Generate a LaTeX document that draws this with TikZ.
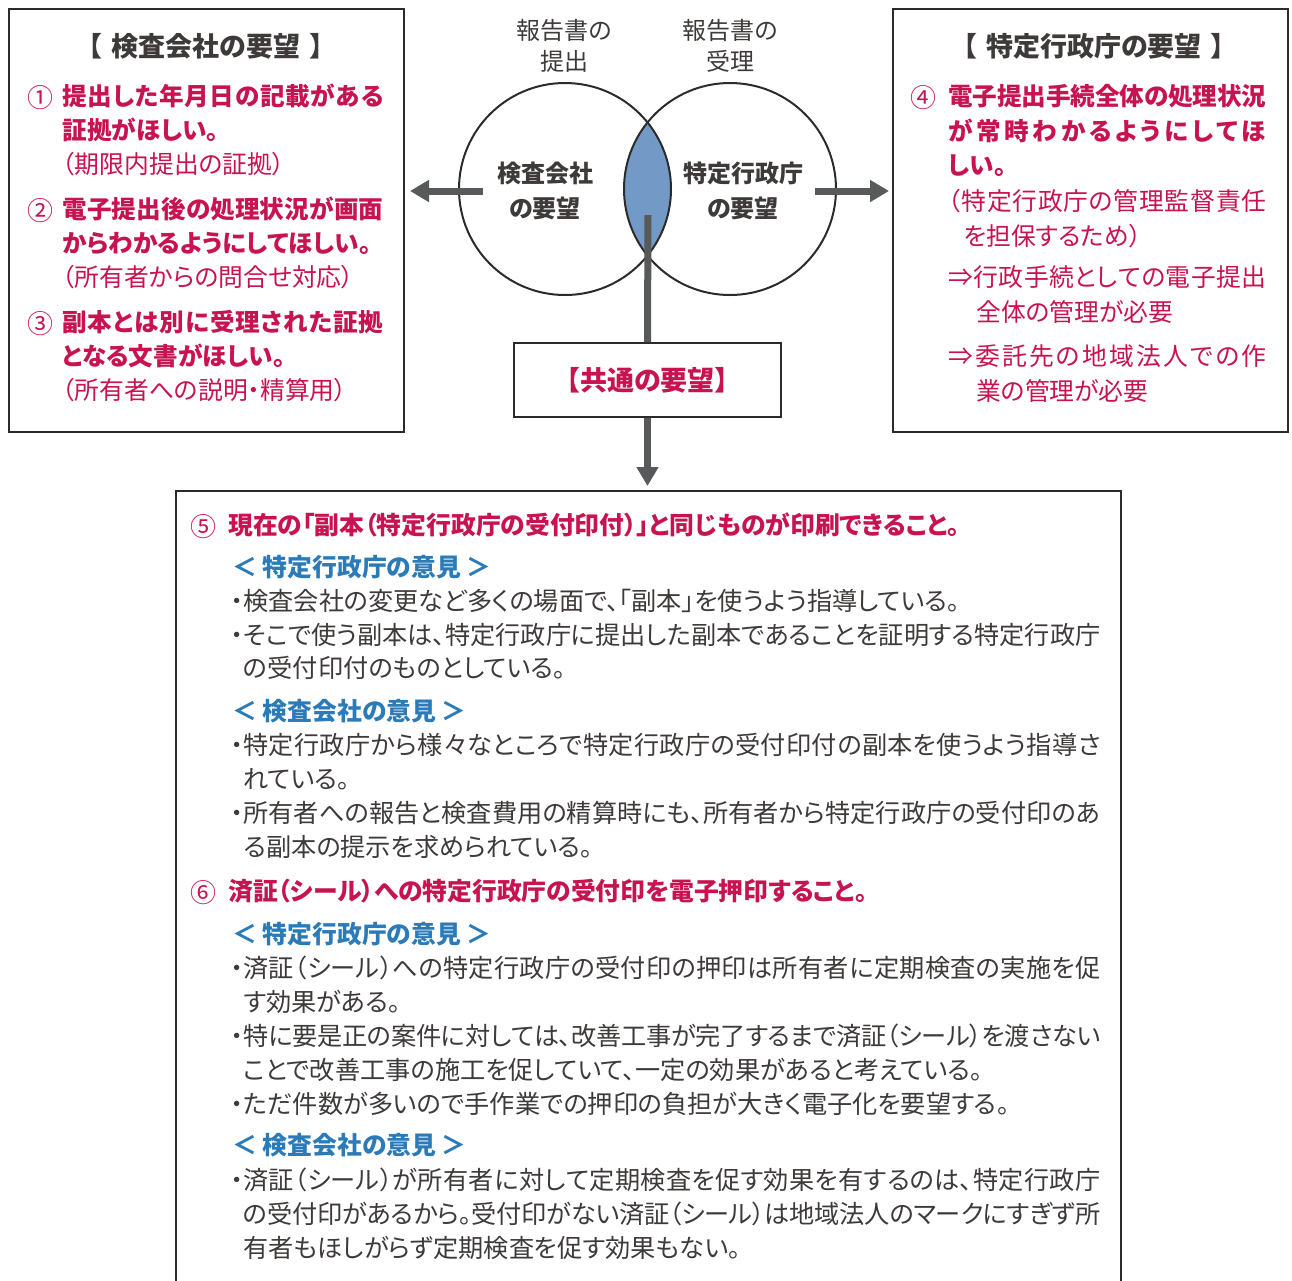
\documentclass[tikz,border=0pt]{standalone}
\usepackage{fontspec}
\setmainfont{Noto Sans CJK JP}[RawFeature=+palt]
\usetikzlibrary{positioning}
\usetikzlibrary{arrows.meta}

\definecolor{reqred}{HTML}{C7134F}
\definecolor{viewblue}{HTML}{2B7BB9}
\definecolor{inkgray}{HTML}{3E3A39}
\definecolor{arrowgray}{HTML}{58595B}
\definecolor{lensblue}{HTML}{7399C6}
\definecolor{framegray}{HTML}{2B2B2B}

% one pixel of the drawing, and a line spread to a given width
\newdimen\px \px=0.5pt
\def\spgap{\hskip 0pt plus 1fil minus 1pt\relax}
\def\sprest#1{\ifx#1\relax\else\spgap#1\expandafter\sprest\fi}
\def\spfirst#1#2\relax{#1\sprest#2\relax}
\newcommand\jline[2]{\hbox to #1\px{\spfirst#2\relax}}

\tikzset{
  frame/.style={draw=framegray, line width=1pt, anchor=north west, inner sep=0pt},
  venn/.style={circle, draw=framegray, line width=1pt, minimum size=106pt, inner sep=0pt},
  ln/.style={anchor=west, inner sep=0pt, text height=0.88em, text depth=0.12em},
  req/.style={ln, text=reqred, font=\fontsize{12.3}{15}\selectfont\bfseries},
  reqnote/.style={ln, text=reqred, font=\fontsize{12.4}{15}\selectfont},
  num/.style={inner sep=0pt, text=reqred, font=\fontsize{13}{15}\selectfont},
  head/.style={inner sep=0pt, text=inkgray, font=\fontsize{13.5}{16}\selectfont\bfseries},
  view/.style={ln, text=viewblue, font=\fontsize{12.4}{15}\selectfont\bfseries},
  body/.style={ln, text=inkgray, font=\fontsize{12.6}{15}\selectfont},
  fat/.style={draw=arrowgray, line width=3.5pt},
}

\begin{document}
\begin{tikzpicture}[x=0.5pt, y=-0.5pt, >={Triangle[width=10.5pt,length=9.5pt]}]
    \useasboundingbox (0,0) rectangle (1292,1281);

    % the frames
    \node[frame, minimum width=197.5pt, minimum height=211.5pt] (kensabox) at (8,8) {};
    \node[frame, minimum width=197.5pt, minimum height=211.5pt] (tokuteibox) at (892,8) {};
    \node[frame, minimum width=472.5pt, minimum height=410pt] (detail) at (175,490) {};

    % the two circles and their overlap
    \coordinate (kc) at (565,189);
    \coordinate (tc) at (730,189);
    \begin{scope}
        \clip (kc) circle[radius=53pt];
        \fill[lensblue] (tc) circle[radius=53pt];
    \end{scope}
    \node[venn] (kensa) at (kc) {};
    \node[venn] (tokutei) at (tc) {};

    \node[align=center, text=inkgray, font=\fontsize{12}{15.5}\selectfont] (teishutsu) at (564,46) {報告書の\\提出};
    \node[align=center, text=inkgray, font=\fontsize{12}{15.5}\selectfont] (juri) at (730,46) {報告書の\\受理};
    \node[align=center, text=inkgray, font=\fontsize{12}{17.5}\selectfont\bfseries] (kensalabel) at (545,191) {検査会社\\の要望};
    \node[align=center, text=inkgray, font=\fontsize{12}{17.5}\selectfont\bfseries] (tokuteilabel) at (743,191) {特定行政庁\\の要望};

    \node[draw=framegray, line width=1pt, minimum width=133.5pt, minimum height=37pt,
    text=reqred, font=\fontsize{13.5}{16}\selectfont\bfseries] (common) at (647.5,380) {【共通の要望】};

    % the arrows
    \coordinate (lens) at (648,215);
    \draw[fat] (lens) -- (common.north);
    \draw[fat, ->, shorten >=2pt] (common.south) -- (common.south |- detail.north);
    \coordinate (lout) at (483,191);
    \draw[fat, ->, shorten >=2.5pt] (lout) -- (lout -| kensabox.east);
    \coordinate (rout) at (815,191);
    \draw[fat, ->, shorten >=1.5pt] (rout) -- (rout -| tokuteibox.west);

    % left frame
    \node[head] (kensatitle) at (206,46) {【\hspace{0.35em}検査会社の要望\hspace{0.35em}】};
    \node[num] (n1) at (40,98) {①};
    \node[req] (k1) at (62,98) {\jline{321}{提出した年月日の記載がある}};
    \node[req] (k2) at (62,132) {証拠がほしい。};
    \node[reqnote] (k3) at (62,166) {（期限内提出の証拠）};
    \node[num] (n2) at (40,211) {②};
    \node[req] (k4) at (62,211) {\jline{321}{電子提出後の処理状況が画面}};
    \node[req] (k5) at (62,245) {からわかるようにしてほしい。};
    \node[reqnote] (k6) at (62,279) {（所有者からの問合せ対応）};
    \node[num] (n3) at (40,324) {③};
    \node[req] (k7) at (62,324) {\jline{321}{副本とは別に受理された証拠}};
    \node[req] (k8) at (62,358) {となる文書がほしい。};
    \node[reqnote] (k9) at (62,392) {（所有者への説明・精算用）};

    % right frame
    \node[head] (tokuteititle) at (1094,46) {【\hspace{0.35em}特定行政庁の要望\hspace{0.35em}】};
    \node[num] (n4) at (923,98) {④};
    \node[req] (t1) at (948,98) {\jline{318}{電子提出手続全体の処理状況}};
    \node[req] (t2) at (948,133) {\jline{318}{が常時わかるようにしてほ}};
    \node[req] (t3) at (948,167) {しい。};
    \node[reqnote] (t4) at (948,203) {\jline{318}{（特定行政庁の管理監督責任}};
    \node[reqnote] (t5) at (963,238) {を担保するため）};
    \node[reqnote] (t6) at (948,279) {\jline{318}{⇒行政手続としての電子提出}};
    \node[reqnote] (t7) at (976,314) {全体の管理が必要};
    \node[reqnote] (t8) at (948,358) {\jline{318}{⇒委託先の地域法人での作}};
    \node[reqnote] (t9) at (976,393) {業の管理が必要};

    % bottom frame
    \node[num] (n5) at (203,527) {⑤};
    \node[req, font=\fontsize{12.4}{15}\selectfont\bfseries] (d1) at (228,527) {現在の「副本（特定行政庁の受付印付）」と同じものが印刷できること。};
    \node[view] (v1) at (232,569) {＜ 特定行政庁の意見 ＞};
    \node[body] (d2) at (243,603) {\llap{・}検査会社の変更など多くの場面で、「副本」を使うよう指導している。};
    \node[body] (d3) at (243,637) {\llap{・}\jline{857}{そこで使う副本は、特定行政庁に提出した副本であることを証明する特定行政庁}};
    \node[body] (d4) at (243,670) {の受付印付のものとしている。};
    \node[view] (v2) at (232,713) {＜ 検査会社の意見 ＞};
    \node[body] (d5) at (243,747) {\llap{・}\jline{857}{特定行政庁から様々なところで特定行政庁の受付印付の副本を使うよう指導さ}};
    \node[body] (d6) at (243,781) {れている。};
    \node[body] (d7) at (243,815) {\llap{・}\jline{857}{所有者への報告と検査費用の精算時にも、所有者から特定行政庁の受付印のあ}};
    \node[body] (d8) at (243,849) {る副本の提示を求められている。};

    \node[num] (n6) at (203,893) {⑥};
    \node[req, font=\fontsize{12.4}{15}\selectfont\bfseries] (d9) at (228,893) {済証（シール）への特定行政庁の受付印を電子押印すること。};
    \node[view] (v3) at (232,936) {＜ 特定行政庁の意見 ＞};
    \node[body] (d10) at (243,970) {\llap{・}\jline{857}{済証（シール）への特定行政庁の受付印の押印は所有者に定期検査の実施を促}};
    \node[body] (d11) at (243,1004) {す効果がある。};
    \node[body] (d12) at (243,1038) {\llap{・}\jline{857}{特に要是正の案件に対しては、改善工事が完了するまで済証（シール）を渡さない}};
    \node[body] (d13) at (243,1072) {ことで改善工事の施工を促していて、一定の効果があると考えている。};
    \node[body] (d14) at (243,1106) {\llap{・}ただ件数が多いので手作業での押印の負担が大きく電子化を要望する。};
    \node[view] (v4) at (232,1147) {＜ 検査会社の意見 ＞};
    \node[body] (d15) at (243,1182) {\llap{・}\jline{857}{済証（シール）が所有者に対して定期検査を促す効果を有するのは、特定行政庁}};
    \node[body] (d16) at (243,1216) {\jline{857}{の受付印があるから。受付印がない済証（シール）は地域法人のマークにすぎず所}};
    \node[body] (d17) at (243,1250) {有者もほしがらず定期検査を促す効果もない。};
\end{tikzpicture}
\end{document}
